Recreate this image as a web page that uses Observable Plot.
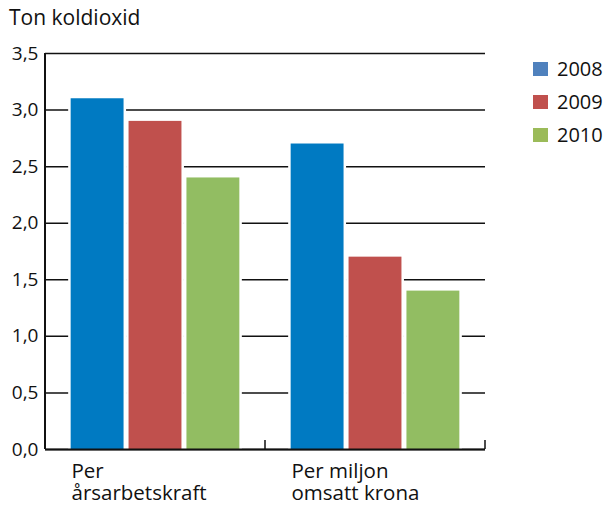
<!DOCTYPE html>
<html>
<head>
<meta charset="utf-8">
<script src="https://cdn.jsdelivr.net/npm/d3@7"></script>
<script src="https://cdn.jsdelivr.net/npm/@observablehq/plot@0.6"></script>
<style>
  body { margin: 0; background: #fff; font-family: "Open Sans", sans-serif; }
  #wrap { position: relative; width: 603px; height: 505px; }
  #title { position: absolute; left: 9px; top: 3px; font-size: 21px; color: #111; }
  #legend { position: absolute; left: 533px; top: 52px; font-size: 20px; color: #111; }
  .item { display: flex; align-items: center; height: 33px; }
  .sw { width: 15px; height: 14px; margin-right: 9px; }
</style>
</head>
<body>
<div id="wrap"></div>
<script>
const categories = ["Per\nårsarbetskraft", "Per miljon\nomsatt krona"];
const years = ["2008", "2009", "2010"];
const values2008 = [3.1, 2.7];
const values2009 = [2.9, 1.7];
const values2010 = [2.4, 1.4];
const barColors = ["#007ac2", "#c0504d", "#92bd62"];
const legendColors = ["#4f81bd", "#c0504d", "#9bbb59"];
const yTicks = [0, 0.5, 1, 1.5, 2, 2.5, 3, 3.5];

const series = [values2008, values2009, values2010];
const data = [];
categories.forEach((c, i) => years.forEach((y, j) => data.push({category: c, year: y, value: series[j][i]})));

const fmt = d => d.toFixed(1).replace(".", ",");
const line = k => d => d.split("\n")[k];

const plot = Plot.plot({
  width: 603,
  height: 505,
  marginTop: 53,
  marginBottom: 56,
  marginLeft: 45,
  marginRight: 118,
  style: {fontFamily: "Open Sans, sans-serif", fontSize: "19px", color: "#111"},
  fx: {domain: categories, padding: 0, label: null, round: false},
  x: {domain: years, paddingInner: 0, paddingOuter: 0.4, round: false, axis: null},
  y: {domain: [0, 3.5], label: null},
  color: {domain: years, range: barColors},
  marks: [
    Plot.ruleY(yTicks, {stroke: "#111", strokeWidth: 1.5}),
    Plot.barY(data, {fx: "category", x: "year", y: "value", fill: "white"}),
    Plot.barY(data, {fx: "category", x: "year", y: "value", fill: "year", insetLeft: 2.5, insetRight: 2.5}),
    Plot.axisY({ticks: yTicks, tickFormat: fmt, tickSize: 0, tickPadding: 7, fontSize: 19}),
    Plot.axisFx({anchor: "bottom", tickSize: 0, tickPadding: 14, textAnchor: "start", dx: -84, lineAnchor: "top", fontSize: 20.5, tickFormat: line(0)}),
    Plot.axisFx({anchor: "bottom", tickSize: 0, tickPadding: 36, textAnchor: "start", dx: -84, lineAnchor: "top", fontSize: 20.5, tickFormat: line(1)}),
    Plot.ruleY([0], {stroke: "#111", strokeWidth: 2})
  ]
});

// axis line and category separators positioned with the library's scales
const svg = d3.select(plot);
const fx = plot.scale("fx");
const yS = plot.scale("y");
const y0 = yS.apply(0), y35 = yS.apply(3.5);
const left = fx.apply(categories[0]);
svg.append("line").attr("x1", left).attr("x2", left).attr("y1", y35).attr("y2", y0)
  .attr("stroke", "#111").attr("stroke-width", 2);
categories.forEach(c => {
  const xr = fx.apply(c) + fx.bandwidth;
  svg.append("line").attr("x1", xr).attr("x2", xr).attr("y1", y0 - 9).attr("y2", y0)
    .attr("stroke", "#111").attr("stroke-width", 1.5);
});

const wrap = document.getElementById("wrap");
plot.style.position = "absolute";
plot.style.left = "0";
plot.style.top = "0";
wrap.appendChild(plot);

const title = document.createElement("div");
title.id = "title";
title.textContent = "Ton koldioxid";
wrap.appendChild(title);

const legend = document.createElement("div");
legend.id = "legend";
years.forEach((y, i) => {
  const it = document.createElement("div");
  it.className = "item";
  it.innerHTML = `<div class="sw" style="background:${legendColors[i]}"></div><span>${y}</span>`;
  legend.appendChild(it);
});
wrap.appendChild(legend);
</script>
</body>
</html>
